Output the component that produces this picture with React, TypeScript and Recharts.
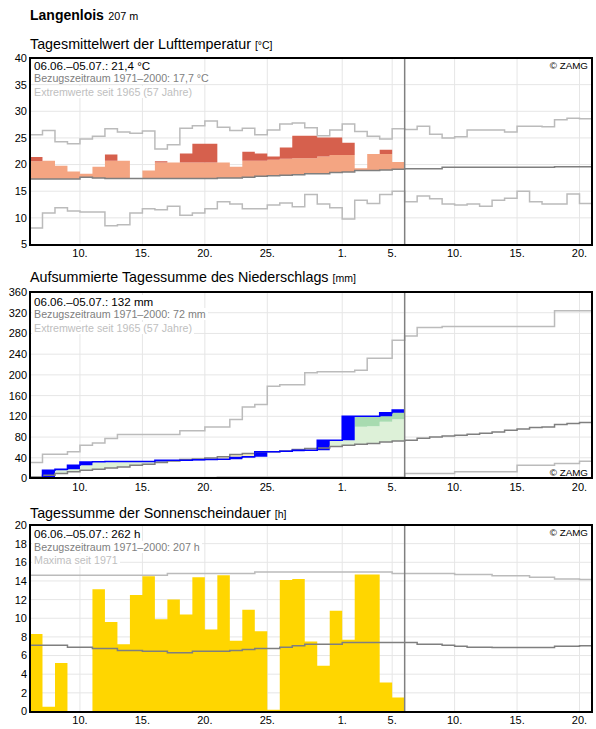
import React from 'react';
import {
  ComposedChart, Area, Line, XAxis, YAxis, CartesianGrid, ReferenceLine,
} from 'recharts';

const FONT = '"Liberation Sans", Arial, sans-serif';

// x = day index, 0 = 06.06., 44 = 20.07. (one extra point closes the last step)
const DAY_TICKS = [4, 9, 14, 19, 25, 29, 34, 39, 44];
const DAY_LABELS = ['10.', '15.', '20.', '25.', '1.', '5.', '10.', '15.', '20.'];
const TODAY = 30;
const DAYS = Array.from({ length: 46 }, (_, i) => i);

// --- Lufttemperatur (°C) ---
const TEMP_MEAN = [21.4, 20.7, 19.8, 18.7, 18.3, 19.6, 21.9, 20.7, 15.8, 18.9, 20.6, 20.4, 22.1, 23.9, 23.9, 20.4, 19.6, 22.4, 22.1, 21.5, 23.2, 25.4, 25.4, 25.1, 25.1, 24.1, 19.3, 22.0, 22.8, 20.5];
const TEMP_WARM = [20.6, 20.7, 20.7, 20.7, 20.7, 20.7, 20.7, 20.7, 20.5, 20.4, 20.4, 20.4, 20.4, 20.4, 20.4, 20.4, 20.5, 20.7, 20.7, 20.9, 21.1, 21.2, 21.2, 21.5, 21.8, 21.8, 21.9, 22.0, 22.0, 22.1];
const TEMP_NORMAL = [17.3, 17.3, 17.3, 17.3, 17.6, 17.5, 17.4, 17.4, 17.4, 17.4, 17.4, 17.4, 17.4, 17.4, 17.4, 17.5, 17.5, 17.6, 17.8, 17.9, 18.0, 18.1, 18.3, 18.3, 18.5, 18.6, 18.9, 18.9, 19.0, 19.1, 19.2, 19.2, 19.2, 19.5, 19.5, 19.5, 19.5, 19.5, 19.5, 19.5, 19.5, 19.5, 19.6, 19.6, 19.6];
const TEMP_MAX = [25.6, 26.4, 24.3, 23.9, 24.8, 25.3, 26.7, 26.1, 25.9, 26.3, 22.9, 23.7, 26.8, 27.3, 28.2, 27.0, 26.4, 26.8, 25.6, 26.5, 27.6, 27.8, 26.9, 25.4, 26.5, 27.6, 26.2, 25.3, 24.8, 26.7, 26.6, 27.2, 25.7, 25.0, 25.2, 26.5, 26.5, 26.5, 26.1, 27.2, 27.2, 27.1, 28.4, 28.7, 28.6];
const TEMP_MIN = [8.1, 10.9, 11.9, 11.3, 11.1, 11.1, 8.5, 8.7, 10.9, 11.7, 11.5, 12.2, 10.5, 10.9, 11.7, 13.0, 12.6, 11.7, 11.7, 12.4, 12.8, 12.1, 14.4, 12.6, 11.9, 9.8, 13.3, 12.7, 14.4, 15.0, 13.0, 14.1, 13.6, 12.6, 12.4, 12.6, 12.2, 13.3, 13.7, 15.0, 13.0, 12.6, 12.6, 14.5, 12.7];

// --- Niederschlag, aufsummiert (mm) ---
const RAIN_SUM = [1.5, 16, 18, 25.7, 32, 32.2, 33, 33, 33, 33, 35, 35, 35, 36, 36.6, 37.3, 40.4, 41.8, 51.4, 51.4, 52.7, 54.6, 54.6, 74, 74, 120, 120, 120, 127, 132];
const RAIN_WET = [null, null, null, null, null, null, null, null, null, null, null, null, null, null, null, null, null, null, null, null, null, null, null, null, null, null, 100, 101, 109.6, 114.6];
const RAIN_NORMAL = [3.1, 6.4, 9.6, 12.8, 16.0, 17.9, 20.5, 22.4, 25.7, 27.6, 30.8, 34.0, 36.6, 37.5, 39.8, 41.8, 46.3, 48.2, 51.4, 51.4, 53.3, 55.9, 57.9, 59, 62, 64.3, 66, 67.5, 70.5, 72.5, 74, 77.7, 80.3, 82.2, 83.5, 85.4, 87.3, 89.9, 93.1, 95.7, 98.3, 99.6, 104, 106, 108];
const RAIN_MAX = [31, 47, 47, 51.4, 64.3, 68.7, 77.2, 85, 85, 85, 85, 85, 92, 92, 99.6, 99.6, 114, 138, 143, 178, 181, 181, 204, 206, 206, 206, 209, 232, 232, 267, 275, 291.5, 291.5, 293.5, 293.5, 293.5, 293.5, 293.5, 293.5, 293.5, 293.5, 293.5, 324, 324, 324];
const RAIN_MIN = [0, 0, 0, 0, 0, 0, 0, 0, 1.9, 1.9, 1.9, 1.9, 1.9, 1.9, 1.9, 3.1, 3.1, 3.1, 3.1, 3.1, 3.1, 3.1, 3.1, 3.1, 3.1, 3.1, 3.1, 3.1, 3.1, 3.1, 9.6, 9.6, 9.6, 9.6, 12.8, 12.8, 12.8, 12.8, 12.8, 25.7, 25.7, 25.7, 28.9, 28.9, 33.4];

// --- Sonnenscheindauer (h) ---
const SUN = [8.3, 0.5, 5.2, 0, 0, 13.1, 9.6, 7.2, 12.5, 14.5, 9.9, 12.0, 10.4, 14.4, 8.8, 14.6, 7.6, 10.9, 8.6, 0.2, 14.1, 14.2, 7.5, 4.9, 10.8, 7.7, 14.7, 14.7, 3.1, 1.5];
const SUN_NORMAL = [7.1, 7.1, 7.1, 6.9, 6.9, 6.75, 6.75, 6.55, 6.55, 6.45, 6.45, 6.3, 6.3, 6.45, 6.45, 6.45, 6.55, 6.65, 6.75, 6.75, 6.9, 7.05, 7.2, 7.2, 7.2, 7.4, 7.4, 7.4, 7.4, 7.4, 7.4, 7.2, 7.2, 7.1, 7.0, 6.9, 6.9, 6.85, 6.85, 6.85, 6.85, 6.85, 7.0, 7.0, 7.05];
const SUN_MAX = [14.6, 14.6, 14.6, 14.6, 14.6, 14.6, 14.6, 14.6, 14.6, 14.6, 14.6, 14.8, 14.8, 14.8, 14.8, 14.8, 14.8, 14.8, 14.95, 14.95, 14.95, 14.95, 14.95, 14.95, 14.95, 14.95, 14.95, 14.95, 14.95, 14.8, 14.8, 14.8, 14.8, 14.8, 14.7, 14.7, 14.7, 14.55, 14.55, 14.55, 14.4, 14.4, 14.2, 14.2, 14.15];

const TEMP_TICKS = [5, 10, 15, 20, 25, 30, 35, 40];
const RAIN_TICKS = [0, 40, 80, 120, 160, 200, 240, 280, 320, 360];
const SUN_TICKS = [0, 2, 4, 6, 8, 10, 12, 14, 16, 18, 20];

// value of a step series at x, the point after the last day repeats it
const at = (arr: (number | null)[], x: number) => {
  if (x < arr.length) return arr[x];
  if (x === arr.length) return arr[arr.length - 1];
  return null;
};

const tempRows = DAYS.map((x) => {
  const row: any = { x, max: at(TEMP_MAX, x), min: at(TEMP_MIN, x), normal: at(TEMP_NORMAL, x) };
  if (x <= TEMP_MEAN.length) {
    const d = Math.min(x, TEMP_MEAN.length - 1);
    const n = TEMP_NORMAL[d], m = TEMP_MEAN[d], w = TEMP_WARM[d];
    row.warm = m > n ? [n, Math.min(m, w)] : [n, n];
    row.hot = m > w ? [w, m] : [w, w];
  }
  return row;
});

const rainRows = DAYS.map((x) => {
  const row: any = { x, max: at(RAIN_MAX, x), min: at(RAIN_MIN, x), normal: at(RAIN_NORMAL, x) };
  if (x <= RAIN_SUM.length) {
    const d = Math.min(x, RAIN_SUM.length - 1);
    const n = RAIN_NORMAL[d], c = RAIN_SUM[d], w = RAIN_WET[d];
    const prev = d > 0 ? RAIN_SUM[d - 1] : 0;
    row.dry = c < n ? [c, n] : [n, n];
    row.wet = c > n ? [n, w != null ? Math.min(c, w) : c] : [n, n];
    row.wetter = w != null && c > w ? [w, c] : [c, c];
    row.day = [prev, c];
    row.sum = c;
  }
  return row;
});

const sunRows = DAYS.map((x) => ({
  x, sun: at(SUN, x), normal: at(SUN_NORMAL, x), max: at(SUN_MAX, x),
}));

const PLOT_LEFT = 30;
const PLOT_W = 562;
const PLOT_H = 186.5;
const M_TOP = 5;

const greyLine = (key: string, color: string) => (
  <Line key={key} type="stepAfter" dataKey={key} stroke={color} strokeWidth={1.5}
    dot={false} activeDot={false} isAnimationActive={false} connectNulls={false} />
);

type PanelProps = {
  top: number; titleY: number; title: string; unit: string;
  domain: [number, number]; ticks: number[]; data: any[];
  info: string[]; infoY: number; zamgY: number; children: React.ReactNode;
};

const Panel = ({ top, titleY, title, unit, domain, ticks, data, info, infoY, zamgY, children }: PanelProps) => (
  <>
    <div style={{ position: 'absolute', left: 30, top: titleY - 10, lineHeight: '20px', fontSize: 14.3, whiteSpace: 'nowrap' }}>
      {title} <span style={{ fontSize: 10.5 }}>[{unit}]</span>
    </div>
    <div style={{ position: 'absolute', left: 0, top: top - M_TOP }}>
      <ComposedChart width={596} height={M_TOP + PLOT_H + 22} data={data}
        margin={{ top: M_TOP, right: 596 - PLOT_LEFT - PLOT_W, bottom: 0, left: 2 }}>
        <CartesianGrid stroke="#e6e6e6" />
        <XAxis type="number" dataKey="x" domain={[0, 45]} ticks={DAY_TICKS} allowDataOverflow
          tickFormatter={(v) => DAY_LABELS[DAY_TICKS.indexOf(v)]} interval={0}
          axisLine={false} tickLine={false} tickSize={0} tickMargin={5} height={22}
          tick={{ fill: '#000', fontSize: 11, fontFamily: FONT }} />
        <YAxis type="number" domain={domain} ticks={ticks} allowDataOverflow interval={0}
          axisLine={false} tickLine={false} tickSize={0} tickMargin={3} width={PLOT_LEFT - 2}
          tick={{ fill: '#000', fontSize: 11, fontFamily: FONT }} />
        {children}
        <ReferenceLine x={TODAY} stroke="#808080" strokeWidth={1.5} />
      </ComposedChart>
    </div>
    <div style={{
      position: 'absolute', left: PLOT_LEFT - 1, top: top - 1, width: PLOT_W + 2, height: PLOT_H + 2,
      border: '2px solid #000', boxSizing: 'border-box', pointerEvents: 'none',
    }} />
    <div style={{ position: 'absolute', left: 32, top: infoY - 6, lineHeight: '11.5px', whiteSpace: 'nowrap' }}>
      {info.map((t, i) => (
        <div key={t}>
          <span style={{
            background: '#fff', padding: '0 2px',
            fontSize: i === 0 ? 11.6 : 10.7,
            color: ['#000', '#808080', '#c0c0c0'][i],
          }}>{t}</span>
        </div>
      ))}
    </div>
    <div style={{ position: 'absolute', right: 596 - 588, top: zamgY - 6, lineHeight: '12px', fontSize: 9.8 }}>
      © ZAMG
    </div>
  </>
);

export default function App() {
  return (
    <div style={{ position: 'absolute', left: 0, top: 0, width: 596, height: 729, background: '#fff', fontFamily: FONT, color: '#000', overflow: 'hidden' }}>
      <div style={{ position: 'absolute', left: 30, top: 5, lineHeight: '20px', whiteSpace: 'nowrap' }}>
        <b style={{ fontSize: 14 }}>Langenlois</b> <span style={{ fontSize: 10.8 }}>207 m</span>
      </div>

      <Panel top={58.3} titleY={43.5} title="Tagesmittelwert der Lufttemperatur" unit="°C"
        domain={[5, 40]} ticks={TEMP_TICKS} data={tempRows} infoY={64.5} zamgY={65.7}
        info={['06.06.–05.07.: 21,4 °C', 'Bezugszeitraum 1971–2000: 17,7 °C', 'Extremwerte seit 1965 (57 Jahre)']}>
        <Area type="stepAfter" dataKey="warm" stroke="none" fill="#F4A582" fillOpacity={1} isAnimationActive={false} activeDot={false} />
        <Area type="stepAfter" dataKey="hot" stroke="none" fill="#D6604D" fillOpacity={1} isAnimationActive={false} activeDot={false} />
        {greyLine('max', '#bbbbbb')}
        {greyLine('min', '#bbbbbb')}
        {greyLine('normal', '#7f7f7f')}
      </Panel>

      <Panel top={291.7} titleY={277.3} title="Aufsummierte Tagessumme des Niederschlags" unit="mm"
        domain={[0, 360]} ticks={RAIN_TICKS} data={rainRows} infoY={300.5} zamgY={472.7}
        info={['06.06.–05.07.: 132 mm', 'Bezugszeitraum 1971–2000: 72 mm', 'Extremwerte seit 1965 (57 Jahre)']}>
        <Area type="stepAfter" dataKey="dry" stroke="none" fill="#FBF3C0" fillOpacity={1} isAnimationActive={false} activeDot={false} />
        <Area type="stepAfter" dataKey="wet" stroke="none" fill="#DDF1D8" fillOpacity={1} isAnimationActive={false} activeDot={false} />
        <Area type="stepAfter" dataKey="wetter" stroke="none" fill="#A8DBB0" fillOpacity={1} isAnimationActive={false} activeDot={false} />
        {greyLine('max', '#bbbbbb')}
        {greyLine('min', '#bbbbbb')}
        {greyLine('normal', '#7f7f7f')}
        <Area type="stepAfter" dataKey="day" stroke="none" fill="#0000FF" fillOpacity={1} isAnimationActive={false} activeDot={false} />
        <Line type="stepAfter" dataKey="sum" stroke="#0000FF" strokeWidth={1.5} dot={false} activeDot={false} isAnimationActive={false} />
      </Panel>

      <Panel top={525} titleY={512.7} title="Tagessumme der Sonnenscheindauer" unit="h"
        domain={[0, 20]} ticks={SUN_TICKS} data={sunRows} infoY={533.3} zamgY={533.3}
        info={['06.06.–05.07.: 262 h', 'Bezugszeitraum 1971–2000: 207 h', 'Maxima seit 1971']}>
        <Area type="stepAfter" dataKey="sun" stroke="none" fill="#FFD600" fillOpacity={1} isAnimationActive={false} activeDot={false} />
        {greyLine('max', '#bbbbbb')}
        {greyLine('normal', '#7f7f7f')}
      </Panel>
    </div>
  );
}
